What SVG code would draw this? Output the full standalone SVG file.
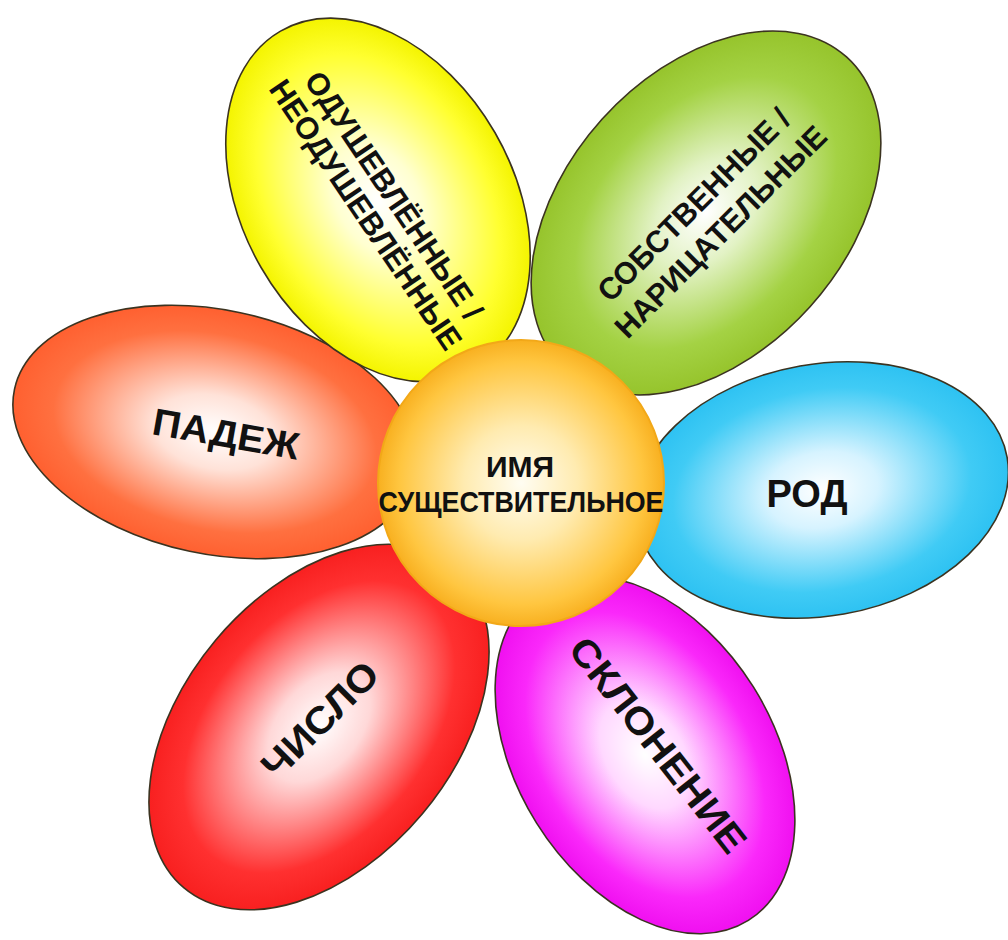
<svg xmlns="http://www.w3.org/2000/svg" width="1008" height="940" viewBox="0 0 1008 940">
<defs>
<style>
.petal{stroke:#3b3320;stroke-width:1.6}
.t{font-family:"Liberation Sans",Arial,sans-serif;font-weight:bold;fill:#111;text-anchor:middle}
</style>
<radialGradient id="gY"><stop offset="0" stop-color="#ffffff"/><stop offset="0.3" stop-color="#ffffd0"/><stop offset="0.8" stop-color="#ffff30"/><stop offset="1" stop-color="#f4f400"/></radialGradient>
<radialGradient id="gG"><stop offset="0" stop-color="#ffffff"/><stop offset="0.3" stop-color="#e2f2c4"/><stop offset="0.75" stop-color="#a4d244"/><stop offset="1" stop-color="#96c42c"/></radialGradient>
<radialGradient id="gO"><stop offset="0" stop-color="#ffffff"/><stop offset="0.3" stop-color="#ffe2d8"/><stop offset="0.8" stop-color="#ff7040"/><stop offset="1" stop-color="#ff6030"/></radialGradient>
<radialGradient id="gB"><stop offset="0" stop-color="#ffffff"/><stop offset="0.3" stop-color="#d6f3ff"/><stop offset="0.8" stop-color="#40cbf5"/><stop offset="1" stop-color="#2ec2f2"/></radialGradient>
<radialGradient id="gM"><stop offset="0" stop-color="#ffffff"/><stop offset="0.3" stop-color="#ffd8ff"/><stop offset="0.8" stop-color="#fa28fa"/><stop offset="1" stop-color="#f010f0"/></radialGradient>
<radialGradient id="gR"><stop offset="0" stop-color="#ffffff"/><stop offset="0.3" stop-color="#ffd8d8"/><stop offset="0.8" stop-color="#ff3030"/><stop offset="1" stop-color="#f82020"/></radialGradient>
<radialGradient id="gC"><stop offset="0" stop-color="#fffdf2"/><stop offset="0.4" stop-color="#ffebb0"/><stop offset="0.85" stop-color="#ffc640"/><stop offset="1" stop-color="#f8b020"/></radialGradient>
</defs>
<rect width="1008" height="940" fill="#ffffff"/>
<g id="connectors"/>
<g id="petal-chislo">
<ellipse class="petal" cx="319" cy="727" rx="210" ry="135" fill="url(#gR)" transform="rotate(-50 319 727)"/>
<text class="t" font-size="38" textLength="148" lengthAdjust="spacingAndGlyphs" transform="translate(320 720) rotate(-45)" y="13">ЧИСЛО</text>
</g>
<g id="petal-sklonenie">
<ellipse class="petal" cx="645" cy="755" rx="195" ry="128" fill="url(#gM)" transform="rotate(58 645 755)"/>
<text class="t" font-size="38" textLength="262" lengthAdjust="spacingAndGlyphs" transform="translate(658 745) rotate(52)" y="13">СКЛОНЕНИЕ</text>
</g>
<g id="petal-sobstvennye">
<ellipse class="petal" cx="706" cy="213" rx="210" ry="140" fill="url(#gG)" transform="rotate(-48 706 213)"/>
<text class="t" font-size="31" textLength="258" lengthAdjust="spacingAndGlyphs" transform="translate(707 218) rotate(-45)" y="-8">СОБСТВЕННЫЕ /</text>
<text class="t" font-size="31" textLength="285" lengthAdjust="spacingAndGlyphs" transform="translate(707 218) rotate(-45)" y="30">НАРИЦАТЕЛЬНЫЕ</text>
</g>
<g id="petal-rod">
<ellipse class="petal" cx="822" cy="490" rx="188" ry="126" fill="url(#gB)" transform="rotate(-10 822 490)"/>
<text class="t" font-size="38" x="807" y="507">РОД</text>
</g>
<g id="petal-padezh">
<ellipse class="petal" cx="215" cy="432" rx="205" ry="122" fill="url(#gO)" transform="rotate(12 215 432)"/>
<text class="t" font-size="38" textLength="148" lengthAdjust="spacingAndGlyphs" transform="translate(226 434) rotate(10)" y="13">ПАДЕЖ</text>
</g>
<g id="petal-odushevlennye">
<ellipse class="petal" cx="378" cy="200" rx="195" ry="135" fill="url(#gY)" transform="rotate(60 378 200)"/>
<text class="t" font-size="31" textLength="292" lengthAdjust="spacingAndGlyphs" transform="translate(380 205) rotate(56)" y="-6">ОДУШЕВЛЁННЫЕ /</text>
<text class="t" font-size="31" textLength="318" lengthAdjust="spacingAndGlyphs" transform="translate(380 205) rotate(56)" y="28">НЕОДУШЕВЛЁННЫЕ</text>
</g>
<g id="center">
<circle cx="521" cy="483" r="143" fill="url(#gC)" stroke="#f2a818" stroke-width="2"/>
<text class="t" font-size="30" x="520" y="477">ИМЯ</text>
<text class="t" font-size="30" x="521" y="512" textLength="285" lengthAdjust="spacingAndGlyphs">СУЩЕСТВИТЕЛЬНОЕ</text>
</g>
</svg>
